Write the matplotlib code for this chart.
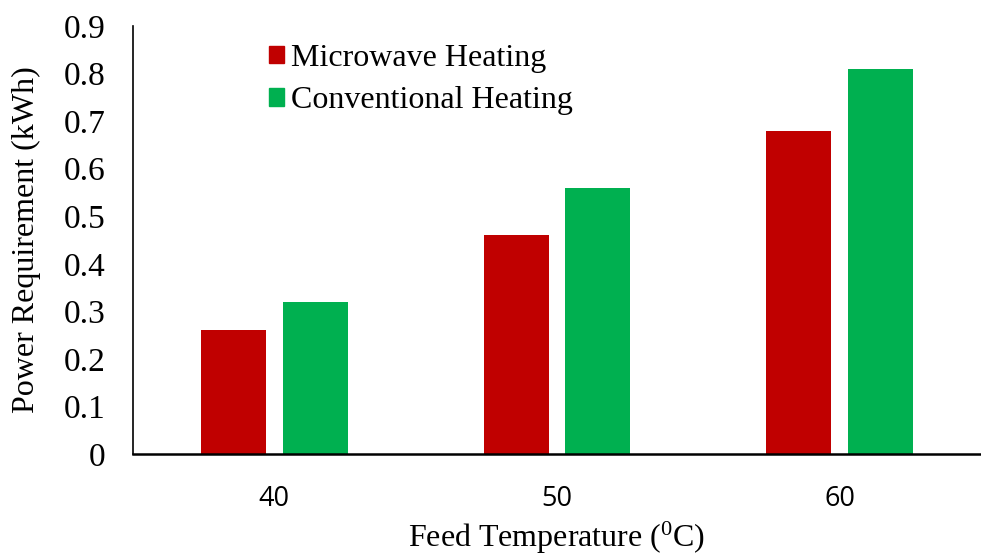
import matplotlib
matplotlib.use("Agg")
import matplotlib.pyplot as plt
import numpy as np
from matplotlib.patches import Patch

categories = ["40", "50", "60"]
microwave = [0.26, 0.46, 0.68]
conventional = [0.32, 0.56, 0.81]
yticks = [0, 0.1, 0.2, 0.3, 0.4, 0.5, 0.6, 0.7, 0.8, 0.9]
ytick_labels = ["0", "0.1", "0.2", "0.3", "0.4", "0.5", "0.6", "0.7", "0.8", "0.9"]

red = "#C00000"
green = "#00B050"
serif = "Liberation Serif"

fig = plt.figure(figsize=(9.81, 5.57), dpi=100)
ax = fig.add_axes([133/981, 1-454/557, 1-133/981, (454-26)/557])

x = np.arange(len(categories))
w = 0.23
off = 0.145
ax.bar(x - off, microwave, w, color=red)
ax.bar(x + off, conventional, w, color=green)

ax.set_xlim(-0.5, 2.5)
ax.set_ylim(0, 0.9)
ax.set_yticks(yticks)
ax.set_yticklabels(ytick_labels, family=serif, fontsize=24)
ax.set_xticks(x)
ax.set_xticklabels(categories, family="Open Sans", fontsize=19.5)
ax.tick_params(axis="both", length=0)
ax.tick_params(axis="y", pad=20)
ax.tick_params(axis="x", pad=22)
for s in ["top", "right"]:
    ax.spines[s].set_visible(False)
ax.spines["left"].set_linewidth(1.2)
ax.spines["bottom"].set_linewidth(1.8)

ax.set_ylabel("Power Requirement (kWh)", family=serif, fontsize=23, labelpad=16)
ax.set_xlabel(r"Feed Temperature ($\mathregular{^0}$C)", family=serif, fontsize=23, labelpad=5)

handles = [Patch(color=red, label="Microwave Heating"), Patch(color=green, label="Conventional Heating")]
ax.legend(handles=handles, loc="upper left", bbox_to_anchor=(0.127, 1.025), frameon=False,
          prop={"family": serif, "size": 23}, handlelength=0.47, handleheight=0.47,
          handletextpad=0.22, labelspacing=0.42)

fig.savefig("out.png", dpi=100)
